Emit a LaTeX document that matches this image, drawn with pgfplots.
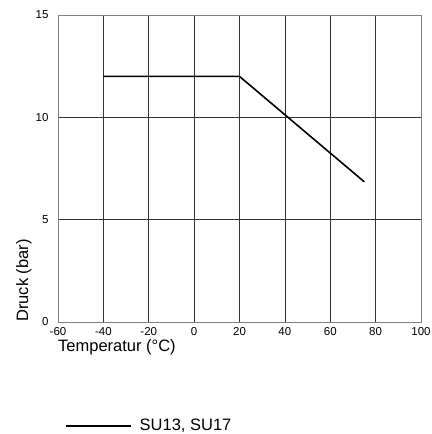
\documentclass[border=0pt]{standalone}
\usepackage{fontspec}
\setmainfont{Liberation Sans}
\usepackage{pgfplots}
\pgfplotsset{compat=1.18}

\newcommand\ticksize{\fontsize{11.5bp}{13bp}\selectfont}
\newcommand\labelsize{\fontsize{16.5bp}{18bp}\selectfont}

\begin{document}
\begin{tikzpicture}
\path[use as bounding box] (-58bp,-112bp) rectangle (374bp,322bp);
\begin{axis}[
    at={(0,0)}, anchor=south west,
    scale only axis, width=363bp, height=307bp,
    xmin=-60, xmax=100, ymin=0, ymax=15,
    xtick={-60,-40,...,100},
    ytick={0,5,10,15},
    /pgf/number format/assume math mode=true,
    xticklabel={\hbox{\ticksize\pgfmathprintnumber{\tick}}},
    yticklabel={\hbox{\ticksize\pgfmathprintnumber{\tick}}},
    major tick length=0pt,
    grid=major,
    major grid style={black!80, line width=0.6pt},
    axis line style={black!50, line width=0.9pt},
    xticklabel style={yshift=-2bp},
    yticklabel style={xshift=-6bp},
    legend style={at={(axis description cs:0.019,-0.338)}, anchor=west,
        draw=none, fill=none, inner sep=0pt,
        nodes={inner sep=0pt},
        font=\labelsize},
    legend cell align=left,
    legend image code/.code={\draw[#1] (0bp,0bp) -- (65bp,0bp);},
    clip=false,
]
\addplot[black, line width=1.6pt] coordinates {
    (-40,12) (20,12) (75,6.85)
};
\addlegendentry{\hspace{8bp}SU13, SU17}
\end{axis}
\node[anchor=base west, inner sep=0pt, font=\labelsize]
    at (0bp,-29bp) {Temperatur (°C)};
\node[anchor=base west, inner sep=0pt, rotate=90, font=\labelsize]
    at (-30bp,0bp) {Druck (bar)};
\end{tikzpicture}
\end{document}
